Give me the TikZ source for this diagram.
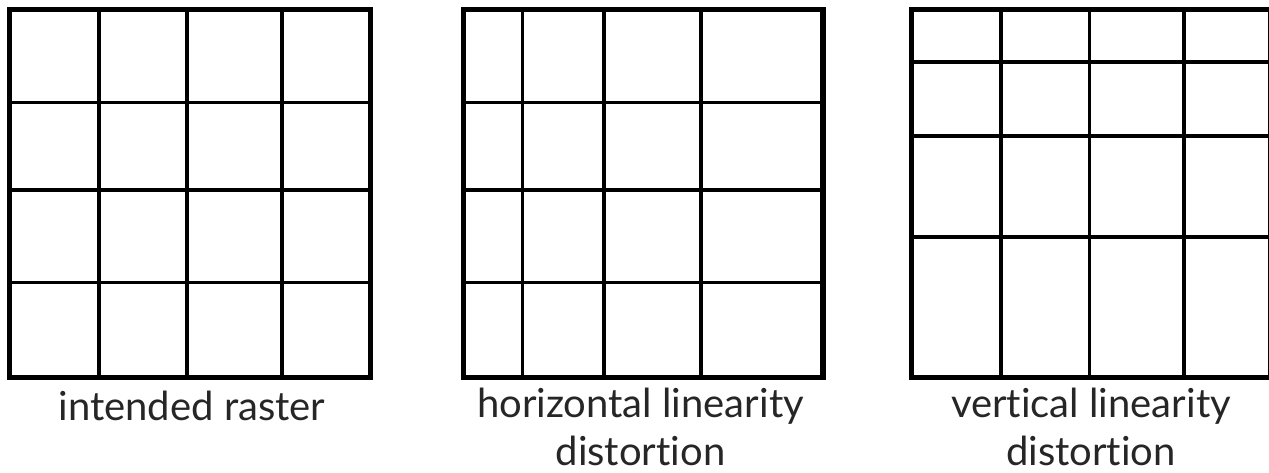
\documentclass[tikz,border=0pt]{standalone}
\usepackage{fontspec}
\setmainfont[Ligatures=NoCommon]{Lato}
\usetikzlibrary{positioning}
\tikzstyle{frame} = [line width=2.6pt]
\tikzstyle{gridline} = [line width=1.9pt]
\tikzstyle{caption} = [
    inner sep=0pt,
    align=center,
    font=\fontsize{20pt}{24pt}\selectfont,
    text=black!85
]

\begin{document}
\begin{tikzpicture}[x=0.5pt, y=-0.5pt]
\useasboundingbox (0,0) rectangle (1269,472);

% intended raster
\draw [gridline] (99.2,9.5) -- (99.2,377.5);
\draw [gridline] (187.2,9.5) -- (187.2,377.5);
\draw [gridline] (281.7,9.5) -- (281.7,377.5);
\draw [gridline] (9.5,102.5) -- (370.5,102.5);
\draw [gridline] (9.5,190) -- (370.5,190);
\draw [gridline] (9.5,282.5) -- (370.5,282.5);
\draw [frame] (9.5,9.5) rectangle (370.5,377.5);
\node (intended) [caption, anchor=base] at (192,420) {intended raster};

% horizontal linearity distortion
\draw [gridline] (522.5,9.5) -- (522.5,377.5);
\draw [gridline] (603.8,9.5) -- (603.8,377.5);
\draw [gridline] (700.8,9.5) -- (700.8,377.5);
\draw [gridline] (463.5,102.5) -- (823,102.5);
\draw [gridline] (463.5,190) -- (823,190);
\draw [gridline] (463.5,282.5) -- (823,282.5);
\draw [frame] (463.5,9.5) rectangle (823,377.5);
\node (horizontal) [caption, anchor=base] at (640.5,465)
{horizontal linearity\\distortion};

% vertical linearity distortion
\begin{scope}
\clip (880,0) rectangle (1269,472);
\draw [gridline] (1000.8,9.5) -- (1000.8,377.5);
\draw [gridline] (1089.5,9.5) -- (1089.5,377.5);
\draw [gridline] (1183.8,9.5) -- (1183.8,377.5);
\draw [gridline] (911.7,61.7) -- (1271,61.7);
\draw [gridline] (911.7,136.3) -- (1271,136.3);
\draw [gridline] (911.7,236.7) -- (1271,236.7);
\draw [frame] (911.7,9.5) rectangle (1271,377.5);
\end{scope}
\node (vertical) [caption, anchor=base] at (1091,465)
{vertical linearity\\distortion};

\end{tikzpicture}
\end{document}
